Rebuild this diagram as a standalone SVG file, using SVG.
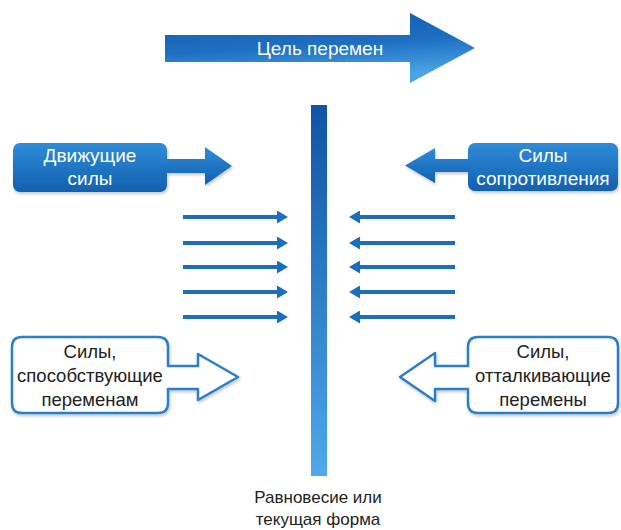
<svg xmlns="http://www.w3.org/2000/svg" width="621" height="530" viewBox="0 0 621 530">
  <defs>
    <linearGradient id="gTop" x1="0" y1="0" x2="0.25" y2="1">
      <stop offset="0" stop-color="#1559aa"/>
      <stop offset="0.55" stop-color="#1e6fc2"/>
      <stop offset="1" stop-color="#4aa4e6"/>
    </linearGradient>
    <linearGradient id="gBox" x1="0" y1="0" x2="0" y2="1">
      <stop offset="0" stop-color="#2f8cd8"/>
      <stop offset="1" stop-color="#1160b0"/>
    </linearGradient>
    <linearGradient id="gBar" x1="0" y1="0" x2="0" y2="1">
      <stop offset="0" stop-color="#0f53a6"/>
      <stop offset="1" stop-color="#4fa9ea"/>
    </linearGradient>
    <filter id="sh" x="-10%" y="-10%" width="120%" height="130%">
      <feDropShadow dx="1" dy="2" stdDeviation="1.5" flood-color="#000" flood-opacity="0.22"/>
    </filter>
    <marker id="ah" viewBox="0 0 11 13" markerUnits="userSpaceOnUse" markerWidth="11" markerHeight="13" refX="3" refY="6.5" orient="auto">
      <path d="M0,0 L11,6.5 L0,13 Z" fill="#1b6dc1"/>
    </marker>
    <style>
      .wt { font-family: "Liberation Sans", Arial, sans-serif; fill: #ffffff; text-anchor: middle; font-size: 19px; }
      .dt { font-family: "Liberation Sans", Arial, sans-serif; fill: #222222; text-anchor: middle; font-size: 18.5px; }
      .lb { font-family: "Liberation Sans", Arial, sans-serif; fill: #222222; text-anchor: middle; font-size: 17px; }
      .fa { fill: url(#gBox); filter: url(#sh); }
      .oa { fill: #ffffff; stroke: #2a7fc8; stroke-width: 2.5; stroke-linejoin: round; filter: url(#sh); }
      .sa { stroke: #1b6dc1; stroke-width: 4; fill: none; marker-end: url(#ah); }
    </style>
  </defs>

  <g id="goal">
    <path d="M165,35 H410 V13 L475,48 L410,83 V62 H165 Z" fill="url(#gTop)"/>
    <text class="wt" x="320" y="55">Цель перемен</text>
  </g>

  <g id="equilibrium">
    <rect x="311" y="105" width="16" height="371" fill="url(#gBar)"/>
    <text class="lb" x="318" y="503">Равновесие или</text>
    <text class="lb" x="318" y="525">текущая форма</text>
  </g>

  <g id="driving">
    <g class="fa">
      <rect x="13" y="143" width="154" height="49" rx="7"/>
      <path d="M165,159 H205 V147 L232,166 L205,185 V173 H165 Z"/>
    </g>
    <text class="wt" x="90" y="162">Движущие</text>
    <text class="wt" x="90" y="185">силы</text>
  </g>

  <g id="resisting">
    <g class="fa">
      <rect x="468" y="143" width="150" height="48" rx="7"/>
      <path d="M470,159 H435 V148 L405,165.5 L435,183 V172 H470 Z"/>
    </g>
    <text class="wt" x="543" y="162">Силы</text>
    <text class="wt" x="543" y="185">сопротивления</text>
  </g>

  <g id="promoting">
    <path class="oa" d="M22,337 H158 Q168,337 168,347 V366 H198 V354 L238,377 L198,400 V389 H168 V403 Q168,413 158,413 H22 Q12,413 12,403 V347 Q12,337 22,337 Z"/>
    <text class="dt" x="90" y="358">Силы,</text>
    <text class="dt" x="90" y="382">способствующие</text>
    <text class="dt" x="90" y="406">переменам</text>
  </g>

  <g id="opposing">
    <path class="oa" d="M478,337 H608 Q618,337 618,347 V403 Q618,413 608,413 H478 Q468,413 468,403 V389 H435 V401 L400,377 L435,353 V366 H468 V347 Q468,337 478,337 Z"/>
    <text class="dt" x="543" y="358">Силы,</text>
    <text class="dt" x="543" y="382">отталкивающие</text>
    <text class="dt" x="543" y="406">перемены</text>
  </g>

  <g id="connectors">
    <line class="sa" x1="183" y1="217" x2="280" y2="217"/>
    <line class="sa" x1="183" y1="243" x2="280" y2="243"/>
    <line class="sa" x1="183" y1="267" x2="280" y2="267"/>
    <line class="sa" x1="183" y1="292" x2="280" y2="292"/>
    <line class="sa" x1="183" y1="317" x2="280" y2="317"/>
    <line class="sa" x1="455" y1="217" x2="357" y2="217"/>
    <line class="sa" x1="455" y1="243" x2="357" y2="243"/>
    <line class="sa" x1="455" y1="267" x2="357" y2="267"/>
    <line class="sa" x1="455" y1="292" x2="357" y2="292"/>
    <line class="sa" x1="455" y1="317" x2="357" y2="317"/>
  </g>
</svg>
